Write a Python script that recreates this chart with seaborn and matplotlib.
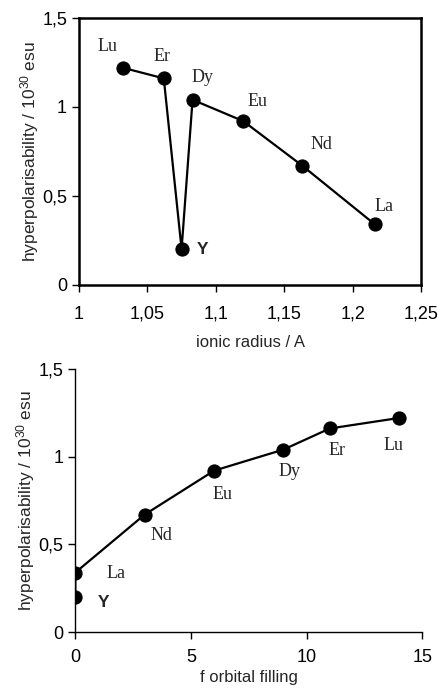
import numpy as np
import pandas as pd
import matplotlib
matplotlib.use("Agg")
import matplotlib.pyplot as plt
import seaborn as sns
from matplotlib.ticker import FuncFormatter, MultipleLocator

# data
elements = ["Lu", "Er", "Y", "Dy", "Eu", "Nd", "La"]
ionic_radius = [1.032, 1.062, 1.075, 1.083, 1.120, 1.163, 1.216]
hyperpol = [1.22, 1.16, 0.20, 1.04, 0.92, 0.67, 0.34]

elements_f = ["Y", "La", "Nd", "Eu", "Dy", "Er", "Lu"]
f_filling = [0, 0, 3, 6, 9, 11, 14]
hyperpol_f = [0.20, 0.34, 0.67, 0.92, 1.04, 1.16, 1.22]

# label offsets (points) relative to each marker
top_offsets = {"Lu": (-11, 15), "Er": (-1, 16), "Y": (15, 0), "Dy": (7, 16),
               "Eu": (10, 14), "Nd": (14, 15), "La": (7, 13)}
bot_offsets = {"Y": (20, -4), "La": (29, -1), "Nd": (12, -15), "Eu": (6, -17),
               "Dy": (4, -16), "Er": (5, -16), "Lu": (-4, -20)}

df_top = pd.DataFrame({"el": elements, "r": ionic_radius, "beta": hyperpol})
df_bot = pd.DataFrame({"el": elements_f, "f": f_filling, "beta": hyperpol_f})

sns.set_style("ticks")
plt.rcParams["font.family"] = ["Liberation Sans", "DejaVu Sans"]

comma = FuncFormatter(lambda v, p: ("%g" % round(v, 3)).replace(".", ","))
ylab = r"hyperpolarisability / $\mathregular{10^{30}}$ esu"

fig = plt.figure(figsize=(4.38, 6.88), dpi=100)
ax1 = fig.add_axes([0.180, 0.586, 0.782, 0.388])
ax2 = fig.add_axes([0.172, 0.081, 0.792, 0.383])

line_kw = dict(color="black", linewidth=1.6, marker="o", markersize=9.5,
               markeredgecolor="black", markerfacecolor="black", sort=False,
               estimator=None)

sns.lineplot(data=df_top, x="r", y="beta", ax=ax1, **line_kw)
sns.lineplot(data=df_bot, x="f", y="beta", ax=ax2, **line_kw)

for ax, df, xcol, offs in ((ax1, df_top, "r", top_offsets), (ax2, df_bot, "f", bot_offsets)):
    for _, row in df.iterrows():
        bold = row["el"] == "Y"
        ax.annotate(row["el"], (row[xcol], row["beta"]), xytext=offs[row["el"]],
                    textcoords="offset points", ha="center", va="center",
                    fontsize=12.5 if bold else 13,
                    fontweight="bold" if bold else "normal",
                    family="Liberation Sans" if bold else "Liberation Serif")

ax1.set_xlim(1, 1.25)
ax1.set_ylim(0, 1.5)
ax1.xaxis.set_major_locator(MultipleLocator(0.05))
ax1.yaxis.set_major_locator(MultipleLocator(0.5))
ax1.xaxis.set_major_formatter(comma)
ax1.yaxis.set_major_formatter(comma)
ax1.set_xlabel("ionic radius / A", fontsize=12, labelpad=9)
ax1.set_ylabel(ylab, fontsize=12.5, labelpad=1)
for s in ax1.spines.values():
    s.set_linewidth(1.8)
    s.set_color("black")

ax2.set_xlim(0, 15)
ax2.set_ylim(0, 1.5)
ax2.xaxis.set_major_locator(MultipleLocator(5))
ax2.yaxis.set_major_locator(MultipleLocator(0.5))
ax2.yaxis.set_major_formatter(comma)
ax2.set_xlabel("f orbital filling", fontsize=12, labelpad=3)
ax2.set_ylabel(ylab, fontsize=12.5, labelpad=1)
sns.despine(ax=ax2)
for s in ["left", "bottom"]:
    ax2.spines[s].set_linewidth(1.0)
    ax2.spines[s].set_color("black")

for ax in (ax1, ax2):
    ax.tick_params(axis="both", direction="out", length=5, width=1,
                   labelsize=13, colors="black")
ax1.tick_params(axis="x", pad=10)
ax2.tick_params(axis="x", pad=7)

fig.savefig("out.png", dpi=100)
